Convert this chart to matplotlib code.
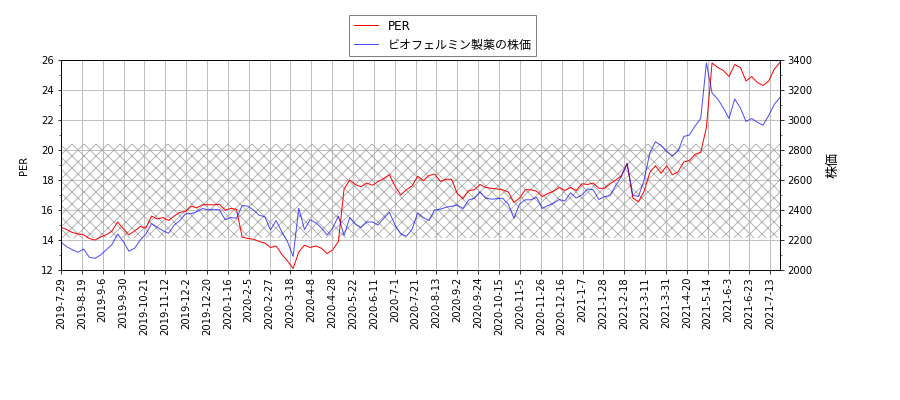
import numpy as np
import matplotlib
matplotlib.use("Agg")
import matplotlib.pyplot as plt

plt.rcParams['font.family'] = ['DejaVu Sans', 'Noto Sans CJK JP']
plt.rcParams['font.size'] = 10
plt.rcParams['hatch.linewidth'] = 0.8

# trading days shown on the x axis
n_days = 518

tick_labels = [
    "2019-7-29", "2019-8-19", "2019-9-6", "2019-9-30", "2019-10-21", "2019-11-12",
    "2019-12-2", "2019-12-20", "2020-1-16", "2020-2-5", "2020-2-27", "2020-3-18",
    "2020-4-8", "2020-4-28", "2020-5-22", "2020-6-11", "2020-7-1", "2020-7-21",
    "2020-8-13", "2020-9-2", "2020-9-24", "2020-10-15", "2020-11-5", "2020-11-26",
    "2020-12-16", "2021-1-7", "2021-1-28", "2021-2-18", "2021-3-11", "2021-3-31",
    "2021-4-20", "2021-5-14", "2021-6-3", "2021-6-23", "2021-7-13",
]

# PER, sampled about every 4 trading days
per = [
    14.85, 14.7, 14.5, 14.4, 14.35, 14.1, 14.0, 14.2, 14.35, 14.6,
    15.2, 14.75, 14.35, 14.6, 14.9, 14.8, 15.6, 15.4, 15.5, 15.3,
    15.6, 15.85, 15.9, 16.25, 16.15, 16.35, 16.35, 16.35, 16.38, 16.0,
    16.1, 16.05, 14.2, 14.1, 14.05, 13.9, 13.8, 13.5, 13.6, 13.05,
    12.6, 12.1, 13.2, 13.65, 13.5, 13.6, 13.45, 13.1, 13.35, 13.9,
    17.4, 18.0, 17.7, 17.55, 17.8, 17.65, 17.9, 18.1, 18.35, 17.6,
    17.0, 17.35, 17.6, 18.25, 17.95, 18.3, 18.4, 17.9, 18.05, 18.05,
    17.1, 16.75, 17.3, 17.35, 17.7, 17.5, 17.45, 17.4, 17.35, 17.2,
    16.5, 16.8, 17.35, 17.35, 17.25, 16.9, 17.1, 17.25, 17.5, 17.3,
    17.5, 17.3, 17.75, 17.7, 17.8, 17.45, 17.45, 17.75, 18.0, 18.3,
    19.1, 16.8, 16.55, 17.25, 18.5, 18.95, 18.45, 18.95, 18.35, 18.55,
    19.2, 19.3, 19.7, 19.85, 21.5, 25.8, 25.5, 25.3, 24.9, 25.7,
    25.5, 24.6, 24.9, 24.5, 24.3, 24.6, 25.4, 25.85,
]

# share price (yen), same sampling
price = [
    2185, 2156, 2135, 2118, 2140, 2085, 2078, 2100, 2135, 2170,
    2240, 2190, 2125, 2145, 2200, 2240, 2310, 2285, 2262, 2245,
    2300, 2330, 2375, 2375, 2389, 2410, 2400, 2405, 2400, 2335,
    2350, 2345, 2430, 2425, 2400, 2365, 2355, 2267, 2330, 2255,
    2190, 2090, 2411, 2270, 2335, 2315, 2280, 2233, 2280, 2360,
    2230, 2350, 2305, 2284, 2320, 2320, 2300, 2345, 2385, 2300,
    2240, 2225, 2270, 2380, 2350, 2330, 2400, 2405, 2418, 2425,
    2433, 2410, 2467, 2478, 2520, 2480, 2472, 2475, 2478, 2440,
    2345, 2440, 2468, 2468, 2485, 2410, 2430, 2445, 2470, 2460,
    2515, 2480, 2500, 2540, 2535, 2470, 2490, 2495, 2565, 2625,
    2710, 2500, 2490, 2600, 2780, 2855, 2830, 2790, 2760, 2795,
    2890, 2900, 2960, 3010, 3380, 3180, 3140, 3080, 3010, 3140,
    3080, 2990, 3010, 2985, 2965, 3030, 3105, 3150,
]

band_low, band_high = 14.1, 20.4

x = np.linspace(0, n_days - 1, len(per))

fig = plt.figure(figsize=(900 / 72, 400 / 72), dpi=72)
ax = fig.add_axes([61 / 900, 130 / 400, 719 / 900, 210 / 400])
ax2 = ax.twinx()

ax.axhspan(band_low, band_high, facecolor='none', edgecolor='#a8a8a8',
           hatch='xx', linewidth=0)
l1, = ax.plot(x, per, color='red', lw=1, label='PER')
l2, = ax2.plot(x, price, color='blue', lw=1, alpha=0.7,
               label='ビオフェルミン製薬の株価')

ax.set_xlim(0, n_days - 1)
ax.set_ylim(12, 26)
ax2.set_ylim(2000, 3400)
ax.set_yticks(np.arange(12, 27, 2))
ax.set_yticks(np.arange(12, 27, 1), minor=True)
ax2.set_yticks(np.arange(2000, 3401, 200))
ax2.set_yticks(np.arange(2000, 3401, 100), minor=True)
ax.set_xticks(np.arange(0, n_days, 15))
ax.set_xticklabels(tick_labels, rotation=90)
ax.grid(True, color='#c0c0c0', lw=1)
ax.set_axisbelow(True)

ax.set_ylabel('PER', labelpad=12)
ax2.set_ylabel('株価', fontsize=13, labelpad=14)

fig.legend(handles=[l1, l2], loc='upper center', bbox_to_anchor=(0.492, 0.978),
           fancybox=False, edgecolor='gray', framealpha=1, fontsize=12)

fig.savefig('out.png', dpi=72)
